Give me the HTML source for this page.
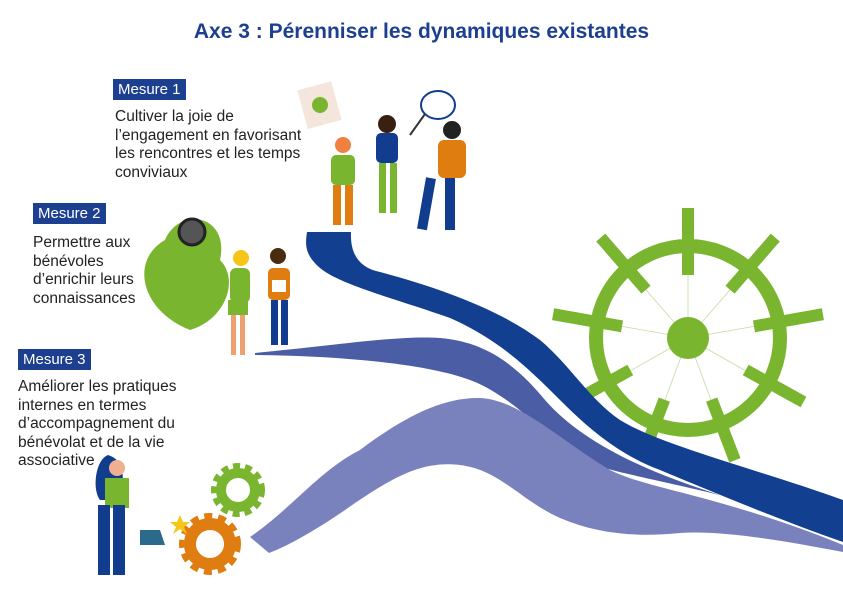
<!DOCTYPE html>
<html><head><meta charset="utf-8"><style>
body{margin:0;width:843px;height:596px;background:#fff;overflow:hidden;position:relative;font-family:"Liberation Sans",sans-serif}
.t{position:absolute;left:0;width:843px;top:20px;text-align:center;color:#1d3f8f;font-weight:bold;font-size:21px}
.m{position:absolute;background:#1d3f8f;color:#fff;font-size:15px;padding:1px 5px;line-height:19px}
.p{position:absolute;color:#222;font-size:15.5px;line-height:18.5px}
</style></head><body>
<svg width="843" height="596" style="position:absolute;left:0;top:0">
<!-- big gear -->
<g stroke="#7ab530" fill="none">
<circle cx="688" cy="338" r="92" stroke-width="14"/>
<g stroke-width="0.8" stroke="#c5dca0">
<line x1="688" y1="338" x2="688" y2="275"/>
<line x1="688" y1="338" x2="646" y2="290"/><line x1="688" y1="338" x2="730" y2="290"/>
<line x1="688" y1="338" x2="620" y2="326"/><line x1="688" y1="338" x2="756" y2="326"/>
<line x1="688" y1="338" x2="630" y2="371"/><line x1="688" y1="338" x2="746" y2="371"/>
<line x1="688" y1="338" x2="665" y2="400"/><line x1="688" y1="338" x2="711" y2="400"/>
</g>
<g stroke-width="12" transform="translate(688 338)">
<line x1="63" y1="0" x2="130" y2="0" transform="rotate(-90)"/>
<line x1="64" y1="0" x2="133" y2="0" transform="rotate(-131)"/>
<line x1="64" y1="0" x2="133" y2="0" transform="rotate(-49)"/>
<line x1="67" y1="0" x2="137" y2="0" transform="rotate(-170)"/>
<line x1="67" y1="0" x2="137" y2="0" transform="rotate(-10)"/>
<line x1="66" y1="0" x2="132" y2="0" transform="rotate(151)"/>
<line x1="66" y1="0" x2="132" y2="0" transform="rotate(29)"/>
<line x1="66" y1="0" x2="131" y2="0" transform="rotate(111)"/>
<line x1="66" y1="0" x2="131" y2="0" transform="rotate(69)"/>
</g></g>
<circle cx="688" cy="338" r="21" fill="#7ab530"/>
<!-- medium ribbon -->
<path d="M255,353 C340,345 400,335 440,338 C490,342 520,370 545,400 C580,440 640,470 720,495 C650,478 600,470 577,458 C540,430 510,395 470,380 C430,365 350,356 255,355 Z" fill="#4a5da5"/>
<!-- dark navy -->
<path d="M307,232 L351,232 C350,255 360,268 380,272 C440,288 500,310 540,340 C570,365 590,400 620,420 C660,445 760,470 843,500 L843,542 C780,520 720,495 660,470 C620,455 590,430 560,400 C530,370 500,340 450,318 C400,300 340,285 320,268 C305,255 305,245 307,232 Z" fill="#123f8f"/>
<!-- light wave -->
<path d="M250,537 C290,510 320,470 360,450 C400,420 440,397 480,398 C520,400 560,440 610,470 C650,490 720,495 843,545 L843,552 C780,540 720,530 680,533 C640,537 600,535 560,518 C520,500 500,470 460,465 C420,460 390,480 355,503 C320,528 290,545 269,553 Z" fill="#7a82bd"/>
<!-- small gears -->
<g fill="none" stroke="#7ab530"><circle cx="238" cy="490" r="17" stroke-width="10"/><circle cx="238" cy="490" r="24" stroke-width="6" stroke-dasharray="7 5"/></g>
<g fill="none" stroke="#e07d10"><circle cx="210" cy="544" r="20" stroke-width="12"/><circle cx="210" cy="544" r="28" stroke-width="6" stroke-dasharray="8 6"/></g>
<!-- leaf -->
<path d="M190,330 C140,310 130,260 165,240 C180,205 230,215 220,260 C240,280 225,320 190,330 Z" fill="#7ab530"/>
<circle cx="192" cy="232" r="13" fill="#555" stroke="#222" stroke-width="3"/>
<!-- person mesure 2 -->
<circle cx="241" cy="258" r="8" fill="#f5c518"/><rect x="230" y="268" width="20" height="35" rx="6" fill="#7ab530"/>
<rect x="228" y="300" width="20" height="15" fill="#7ab530"/><rect x="231" y="315" width="5" height="40" fill="#f0a070"/><rect x="240" y="315" width="5" height="40" fill="#f0a070"/>
<circle cx="278" cy="256" r="8" fill="#4a2c10"/><rect x="268" y="268" width="22" height="32" rx="5" fill="#e07d10"/>
<rect x="271" y="300" width="7" height="45" fill="#123d8f"/><rect x="281" y="300" width="7" height="45" fill="#123d8f"/>
<rect x="272" y="280" width="14" height="12" fill="#fff"/>
<!-- people mesure 1 -->
<rect x="302" y="85" width="35" height="40" fill="#f4e6dc" transform="rotate(-15 320 105)"/><circle cx="320" cy="105" r="8" fill="#7ab530"/>
<circle cx="343" cy="145" r="8" fill="#f08040"/><rect x="331" y="155" width="24" height="30" rx="5" fill="#7ab530"/>
<rect x="333" y="185" width="8" height="40" fill="#e07d10"/><rect x="345" y="185" width="8" height="40" fill="#e07d10"/>
<circle cx="387" cy="124" r="9" fill="#3a2010"/><rect x="376" y="133" width="22" height="30" rx="5" fill="#123d8f"/>
<rect x="379" y="163" width="7" height="50" fill="#7ab530"/><rect x="390" y="163" width="7" height="50" fill="#7ab530"/>
<circle cx="452" cy="130" r="9" fill="#222"/><rect x="438" y="140" width="28" height="38" rx="6" fill="#e07d10"/>
<rect x="426" y="178" width="10" height="52" fill="#123d8f" transform="rotate(10 430 178)"/><rect x="445" y="178" width="10" height="52" fill="#123d8f"/>
<ellipse cx="438" cy="105" rx="17" ry="14" fill="none" stroke="#123d8f" stroke-width="2"/><line x1="425" y1="114" x2="410" y2="135" stroke="#333" stroke-width="2"/>
<!-- person mesure 3 -->
<path d="M108,455 C95,460 92,490 100,500 L120,500 C125,480 125,460 108,455 Z" fill="#123d8f"/>
<circle cx="117" cy="468" r="8" fill="#f0b090"/><rect x="105" y="478" width="24" height="30" fill="#7ab530"/>
<rect x="98" y="505" width="12" height="70" fill="#123d8f"/><rect x="113" y="505" width="12" height="70" fill="#123d8f"/>
<path d="M140,530 L160,530 L165,545 L140,545 Z" fill="#2b6a8a"/><polygon points="180,515 183,522 190,522 184,527 187,534 180,529 173,534 176,527 170,522 177,522" fill="#f5c518"/>
</svg>
<div class="t">Axe 3 : Pérenniser les dynamiques existantes</div>
<div class="m" style="left:113px;top:79px">Mesure 1</div>
<div class="p" style="left:115px;top:108px">Cultiver la joie de<br>l’engagement en favorisant<br>les rencontres et les temps<br>conviviaux</div>
<div class="m" style="left:33px;top:203px">Mesure 2</div>
<div class="p" style="left:33px;top:234px">Permettre aux<br>bénévoles<br>d’enrichir leurs<br>connaissances</div>
<div class="m" style="left:18px;top:349px">Mesure 3</div>
<div class="p" style="left:18px;top:378px">Améliorer les pratiques<br>internes en termes<br>d’accompagnement du<br>bénévolat et de la vie<br>associative</div>
</body></html>
